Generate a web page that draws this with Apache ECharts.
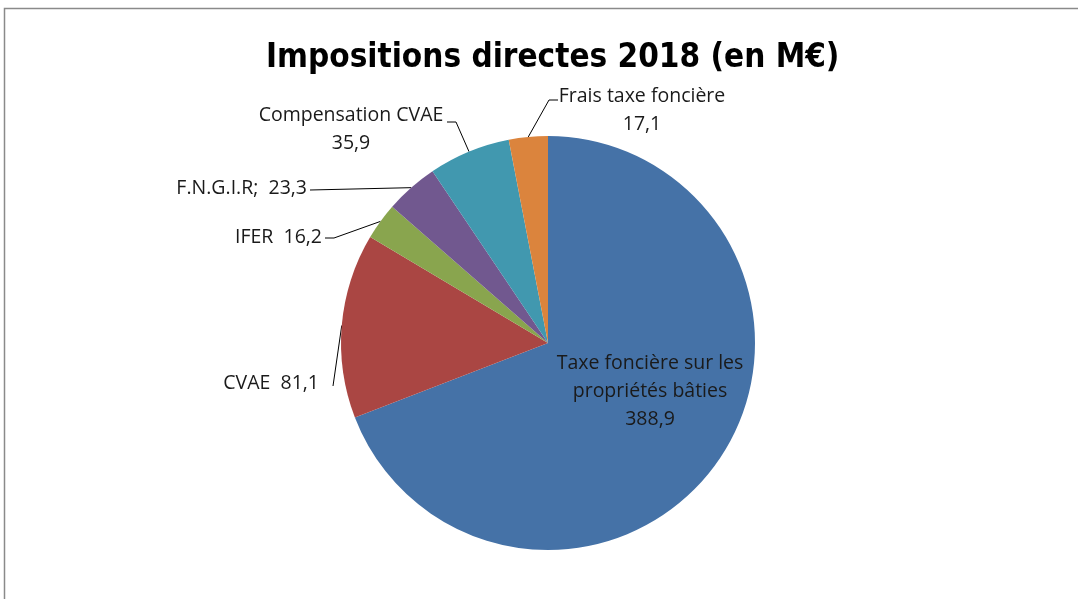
<!DOCTYPE html>
<html>
<head>
<meta charset="utf-8">
<script src="https://cdn.jsdelivr.net/npm/echarts@6/dist/echarts.min.js"></script>
<style>
  html, body { margin: 0; padding: 0; background: #fff; }
  #chart { width: 1078px; height: 599px; }
</style>
</head>
<body>
<div id="chart"></div>
<script>
// donnees
var names = ['Taxe foncière sur les\npropriétés bâties', 'CVAE', 'IFER', 'F.N.G.I.R', 'Compensation CVAE', 'Frais taxe foncière'];
var values = [388.9, 81.1, 16.2, 23.3, 35.9, 17.1];
var separators = ['\n', '  ', '  ', ';  ', '\n', '\n'];
var colors = ['#4572A7', '#AA4643', '#89A54E', '#71588F', '#4198AF', '#DB843D'];

// position des etiquettes [x, y, align] et coude du trait
var labelPos = [[650, 391, 'center'], [319, 383, 'right'], [322, 237, 'right'], [307, 188, 'right'], [351, 129, 'center'], [642, 110, 'center']];
var lineBend = [null, [333, 386], [334, 238], [310, 190], [456, 122], [549, 100]];
var lineEnd = [null, [333, 386], [325, 238], [310, 190], [447, 122], [558, 100]];

var chart = echarts.init(document.getElementById('chart'));

var data = [];
for (var i = 0; i < values.length; i++) {
	data.push({
		name: names[i],
		value: values[i],
		itemStyle: { color: colors[i] },
		label: { position: i == 0 ? 'inside' : 'outside' },
		labelLine: { show: i != 0 }
	});
}

var option = {
	animation: false,
	backgroundColor: '#fff',
	title: {
		text: 'Impositions directes 2018 (en M€)',
		left: 261,
		top: 37,
		textStyle: {
			fontFamily: "'Liberation Sans Narrow', 'DejaVu Sans Condensed', sans-serif",
			fontWeight: 'bold',
			fontSize: 33,
			color: '#000'
		}
	},
	graphic: [{
		type: 'rect',
		shape: { x: 4.5, y: 8.5, width: 1200, height: 700 },
		style: { fill: 'none', stroke: '#8a8a8a', lineWidth: 1.5 },
		silent: true
	}],
	series: [{
		type: 'pie',
		center: [548, 343],
		radius: 207,
		startAngle: 90,
		clockwise: true,
		data: data,
		itemStyle: { borderWidth: 0 },
		label: {
			fontFamily: "'Open Sans', sans-serif",
			fontSize: 19.5,
			lineHeight: 28,
			color: '#1a1a1a',
			formatter: function (p) {
				return p.name + separators[p.dataIndex] + String(p.value).replace('.', ',');
			}
		},
		labelLine: {
			lineStyle: { color: '#000', width: 1 }
		},
		labelLayout: function (p) {
			var i = p.dataIndex;
			var L = labelPos[i];
			var res = { x: L[0], y: L[1], align: L[2], verticalAlign: 'middle' };
			if (i > 0 && p.labelLinePoints) {
				res.labelLinePoints = [p.labelLinePoints[0], lineBend[i], lineEnd[i]];
			}
			return res;
		}
	}]
};

chart.setOption(option);
</script>
</body>
</html>
